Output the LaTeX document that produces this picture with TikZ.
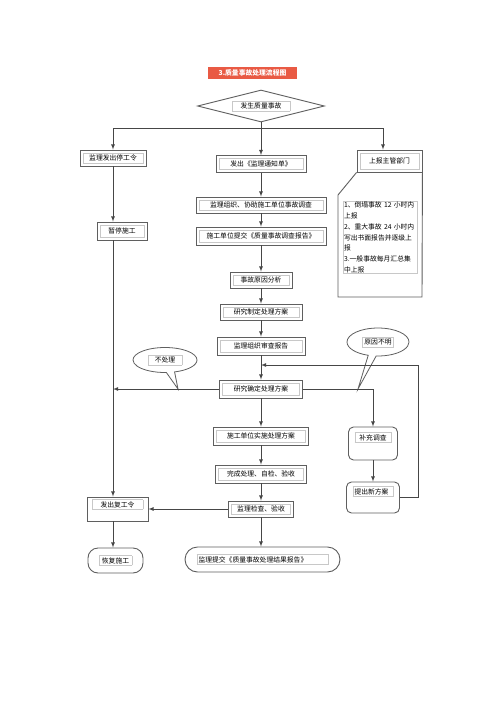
\documentclass[tikz,border=0pt]{standalone}
\usepackage{fontspec}
\setmainfont{Noto Sans CJK SC}
\usepackage{tikz}
\usetikzlibrary{shapes.geometric,shapes.callouts}
\definecolor{boxgray}{RGB}{95,95,95}
\definecolor{linegray}{RGB}{70,70,70}
\definecolor{framegray}{RGB}{200,200,200}
\definecolor{titlered}{RGB}{233,90,68}
\newcommand{\flowfont}{\fontsize{6.8pt}{8pt}\selectfont}
\newcommand{\tframe}[1]{{\setlength{\fboxsep}{1.5pt}\setlength{\fboxrule}{0.5pt}\fcolorbox{framegray}{white}{#1}}}
\tikzstyle{stepbox}=[draw=boxgray,line width=0.9pt,inner sep=0pt,minimum height=16pt,font=\flowfont,
  path picture={\draw[framegray,line width=0.5pt] ([shift={(3pt,-3pt)}]path picture bounding box.north west) rectangle ([shift={(-3pt,3pt)}]path picture bounding box.south east);}]
\tikzstyle{notebox}=[draw=boxgray,line width=0.9pt,inner sep=3pt,font=\flowfont]
\tikzstyle{bubble}=[draw=boxgray,line width=0.8pt,ellipse callout,inner sep=1pt,font=\flowfont]
\tikzstyle{flow}=[draw=linegray,line width=0.8pt]

\begin{document}
\begin{tikzpicture}[x=1pt,y=-1pt,>=latex]
          \fill[white] (0,0) rectangle (500,707);
          \useasboundingbox (0,0) rectangle (500,707);

          % title and start
          \node[fill=titlered,text=white,font=\bfseries\flowfont,minimum width=89pt,minimum height=12pt,inner sep=0pt] (title) at (252.5,72.5) {3.质量事故处理流程图};
          \node[diamond,shape aspect=4,draw=boxgray,line width=0.9pt,minimum width=127pt,minimum height=32pt,inner sep=0pt,font=\flowfont] (accident) at (261,106) {\tframe{\makebox[54pt]{发生质量事故}}};

          % left column
          \node[stepbox,minimum width=66pt] at (113,158) (stop) {监理发出停工令};
          \node[stepbox,minimum width=50pt,minimum height=18pt] at (122,231) (pause) {暂停施工};
          \node[notebox,minimum width=61pt,text height=7pt,text depth=11pt] at (117.5,509) (resume) {\tframe{\makebox[47pt]{发出复工令}}};
          \node[notebox,rounded corners=10pt,minimum width=55pt,minimum height=25pt] at (115.5,560.5) (restart) {\tframe{\makebox[29pt]{恢复施工}}};

          % middle column
          \node[stepbox,minimum width=90pt,minimum height=17pt] at (261,164) (notice) {发出《监理通知单》};
          \node[stepbox,minimum width=130pt] at (261,205) (assist) {监理组织、协助施工单位事故调查};
          \node[stepbox,minimum width=130pt,minimum height=18pt] at (261,236) (submit) {施工单位提交《质量事故调查报告》};
          \node[stepbox,minimum width=62pt] at (261,280) (cause) {事故原因分析};
          \node[stepbox,minimum width=82pt] at (261,312) (plan) {研究制定处理方案};
          \node[stepbox,minimum width=88pt,minimum height=18pt] at (261,346) (review) {监理组织审查报告};
          \node[stepbox,minimum width=83pt,minimum height=18pt] at (261,389) (decide) {研究确定处理方案};
          \node[stepbox,minimum width=95pt,minimum height=18pt] at (261,436) (implement) {施工单位实施处理方案};
          \node[stepbox,minimum width=91pt,minimum height=18pt] at (261,474) (complete) {完成处理、自检、验收};
          \node[stepbox,minimum width=65pt] at (261,509) (check) {监理检查、验收};
          \node[notebox,rounded corners=12.5pt,minimum width=155pt,minimum height=25pt] at (262.5,559.5) (result) {\tframe{\makebox[128pt][l]{监理提交《质量事故处理结果报告》}}};

          % right column
          \node[stepbox,minimum width=65pt,minimum height=22pt] at (389.5,161) (report) {上报主管部门};
          \draw[boxgray,line width=0.9pt] (report.south west) -- (338,195) -- (338,297) -- (422,297) -- (report.south east);
          \node[draw=framegray,line width=0.5pt,text width=72pt,align=left,inner sep=1pt,font=\fontsize{6.8pt}{10.7pt}\selectfont] at (380,237.5) (rules) {1、倒塌事故 12 小时内\\上报\\2、重大事故 24 小时内\\写出书面报告并逐级上\\报\\3.一般事故每月汇总集\\中上报};
          \node[notebox,rounded corners=5pt,minimum width=49pt,text height=10pt,text depth=17pt] at (373,443.5) (survey) {\tframe{\makebox[33pt]{补充调查}}};
          \node[notebox,rounded corners=5pt,minimum width=53pt,text height=9pt,text depth=16pt] at (373,497.5) (newplan) {\tframe{\makebox[37pt][l]{提出新方案}}};

          % callouts
          \coordinate (nofixtip) at (178,389);
          \coordinate (unknowntip) at (358,389);
          \node[bubble,minimum width=64pt,minimum height=25pt,callout absolute pointer={(nofixtip)}] at (165,360) (nofix) {\tframe{\makebox[30pt]{不处理}}};
          \node[bubble,minimum width=62pt,minimum height=28pt,callout absolute pointer={(unknowntip)}] at (378,342) (unknown) {\tframe{原因不明}};

          % connectors
          \coordinate (split) at (261,128);
          \coordinate (reportin) at (383,128);
          \coordinate (loopup) at (418,365);
          \draw[flow,->] (accident.south) -- (notice.north);
          \draw[flow,->] (split) -| (stop.north);
          \draw[flow,->] (split) -- (reportin) -- (reportin |- report.north);
          \draw[flow,->] (stop.south) -- (stop.south |- pause.north);
          \draw[flow,->] (pause.south -| stop.south) -- (resume.north -| stop.south);
          \draw[flow,->] (resume.south -| stop.south) -- (restart.north -| stop.south);
          \draw[flow,->] (notice) -- (assist);
          \draw[flow,->] (assist) -- (submit);
          \draw[flow,->] (submit) -- (cause);
          \draw[flow,->] (cause) -- (plan);
          \draw[flow,->] (plan) -- (review);
          \draw[flow,->] (review) -- (decide);
          \draw[flow,->] (decide) -- (implement);
          \draw[flow,->] (implement) -- (complete);
          \draw[flow,->] (complete) -- (check);
          \draw[flow,->] (check.south) -- (check.south |- result.north);
          \draw[flow,->] (decide.west) -- (decide.west -| stop.south);
          \draw[flow,->] (decide.east) -| (survey.north);
          \draw[flow,->] (survey) -- (newplan);
          \draw[flow,->] (newplan.east) -| (loopup) -- (loopup -| review.south);
          \draw[flow,->] (check.west) -- (check.west -| resume.east);
        \end{tikzpicture}
\end{document}
